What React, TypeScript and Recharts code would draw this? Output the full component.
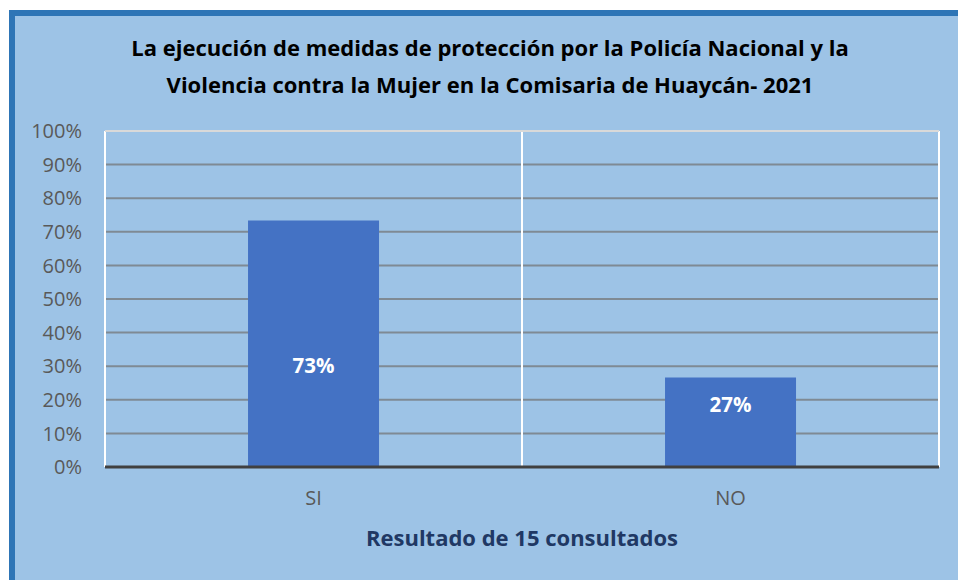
import { BarChart, Bar, XAxis, YAxis, CartesianGrid, ReferenceLine, LabelList, Label } from "recharts"

const categories = ["SI", "NO"]
const percentages = [73.33, 26.67]
const valueLabels = ["73%", "27%"]
const yTicks = [0, 10, 20, 30, 40, 50, 60, 70, 80, 90, 100]

const titleLines = [
  "La ejecución de medidas de protección por la Policía Nacional y la",
  "Violencia contra la Mujer en la Comisaria de Huaycán- 2021",
]
const axisTitle = "Resultado de 15 consultados"

const FONT = "'Open Sans', Lato, sans-serif"
// Excel had the labels nudged a bit off-centre
const labelShift = [21, -18]

const data = categories.map((name, i) => ({ name, value: percentages[i], label: valueLabels[i] }))

function BarLabel(props: any) {
  const { x, y, width, height, index, value } = props
  const cy = y + height / 2 + (labelShift[index] ?? 0)
  return (
    <text
      x={x + width / 2}
      y={cy}
      textAnchor="middle"
      dominantBaseline="central"
      fill="#ffffff"
      fontFamily={FONT}
      fontWeight={700}
      fontSize={20.5}
    >
      {value}
    </text>
  )
}

export default function App() {
  return (
    <div style={{ position: "absolute", left: 0, top: 0, width: 958, height: 580, overflow: "hidden", background: "#fff" }}>
      <div
        style={{
          position: "absolute",
          left: 9,
          top: 10,
          width: 960,
          height: 580,
          background: "#9dc3e6",
          borderLeft: "6px solid #2e75b6",
          borderTop: "6px solid #2e75b6",
          boxSizing: "border-box",
        }}
      />
      <div
        style={{
          position: "absolute",
          left: 20,
          top: 29,
          width: 940,
          textAlign: "center",
          fontFamily: FONT,
          fontWeight: 700,
          fontSize: 22,
          lineHeight: "37px",
          color: "#000",
        }}
      >
        {titleLines.map((t) => (
          <div key={t}>{t}</div>
        ))}
      </div>
      <div style={{ position: "absolute", left: 0, top: 0 }}>
        <BarChart
          width={958}
          height={580}
          data={data}
          margin={{ top: 131, right: 19, bottom: 23, left: 0 }}
          barCategoryGap="34.3%"
        >
          <CartesianGrid
            stroke="#7f8a94"
            strokeWidth={2}
            vertical={false}
          />
          <CartesianGrid
            horizontal={false}
            stroke="#ffffff"
            strokeWidth={2}
            verticalCoordinatesGenerator={({ offset }: any) => {
              const step = offset.width / categories.length
              return categories.map((_, i) => offset.left + i * step).concat(offset.left + offset.width)
            }}
          />
          <ReferenceLine y={100} stroke="#d9d9d9" strokeWidth={2} />
          <YAxis
            width={105}
            domain={[0, 100]}
            ticks={yTicks}
            tickFormatter={(v) => `${v}%`}
            axisLine={false}
            tickLine={false}
            tickSize={6}
            tickMargin={17}
            tick={{ fill: "#595959", fontSize: 20, fontFamily: FONT }}
            interval={0}
          />
          <XAxis
            dataKey="name"
            height={90}
            axisLine={{ stroke: "#404040", strokeWidth: 3 }}
            tickLine={false}
            tickSize={6}
            tickMargin={18}
            tick={{ fill: "#595959", fontSize: 20, fontFamily: FONT }}
          >
            <Label
              value={axisTitle}
              position="insideBottom"
              offset={11}
              fill="#203864"
              fontSize={22}
              fontWeight={700}
              fontFamily={FONT}
            />
          </XAxis>
          <Bar dataKey="value" fill="#4472c4" isAnimationActive={false}>
            <LabelList dataKey="label" content={<BarLabel />} />
          </Bar>
        </BarChart>
      </div>
    </div>
  )
}
